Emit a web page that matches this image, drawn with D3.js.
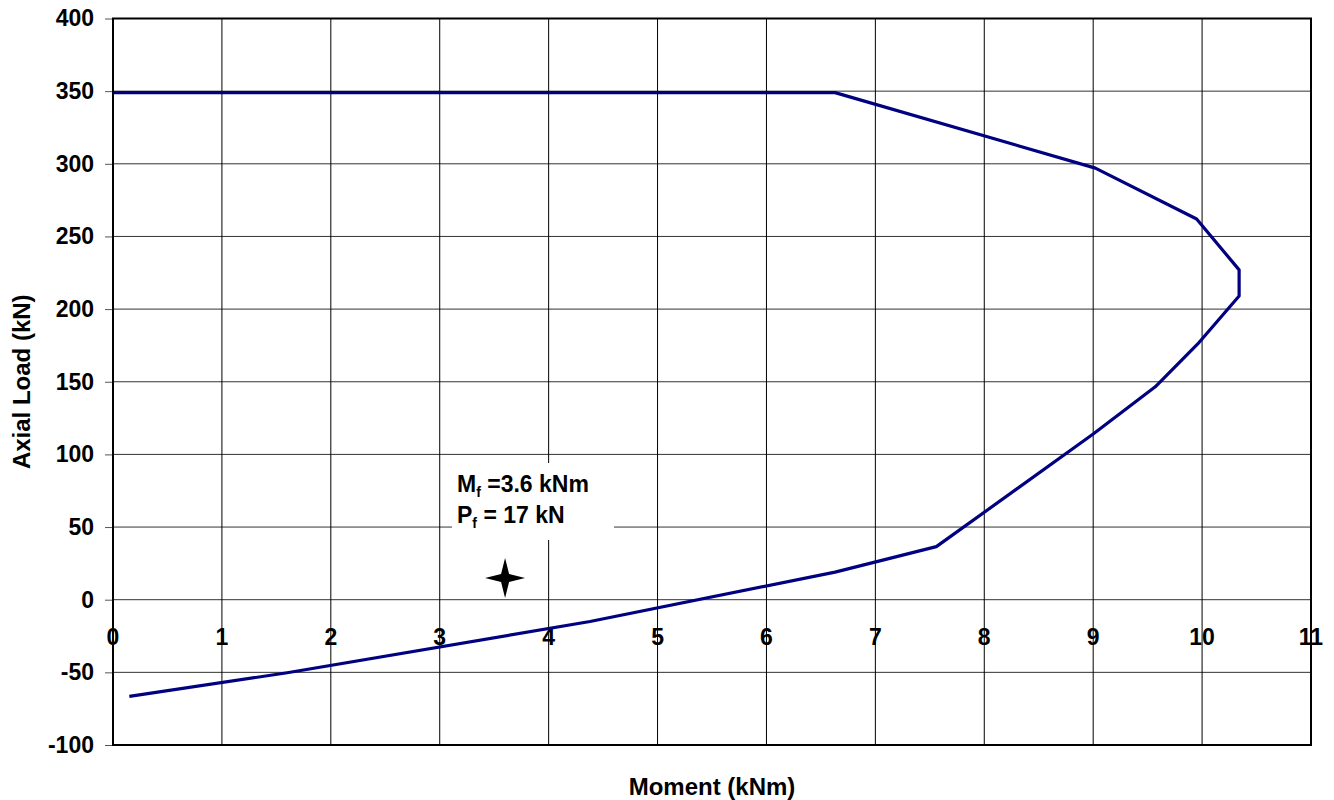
<!DOCTYPE html>
<html>
<head>
<meta charset="utf-8">
<script src="https://cdn.jsdelivr.net/npm/d3@7"></script>
<style>
  body { margin: 0; background: #fff; }
  text { font-family: "Liberation Sans", Arial, sans-serif; font-weight: bold; fill: #000; }
</style>
</head>
<body>
<div class="chart"></div>
<script>
// interaction curve, moment (kNm) vs axial load (kN)
var moment = [0.15, 1.6, 4.38, 6.63, 7.56, 9.0, 9.57, 9.96, 10.34, 10.34, 9.95, 9.02, 6.63, 0];
var axial  = [-66.5, -50.3, -15, 19, 36.5, 114, 146.5, 176, 209, 227, 262, 297, 349, 349];

// factored load point
var mf = 3.6, pf = 17;

var xTicks = [0, 1, 2, 3, 4, 5, 6, 7, 8, 9, 10, 11];
var yTicks = [-100, -50, 0, 50, 100, 150, 200, 250, 300, 350, 400];

var width = 1334, height = 800;
var margin = {top: 18.5, right: 23, bottom: 55, left: 113};

var x = d3.scaleLinear().domain([0, 11]).range([margin.left, width - margin.right]);
var y = d3.scaleLinear().domain([-100, 400]).range([height - margin.bottom, margin.top]);

var svg = d3.select(".chart").append("svg")
  .attr("width", width)
  .attr("height", height);

// grid
svg.append("g").selectAll("line")
  .data(yTicks)
  .enter().append("line")
    .attr("x1", x(0)).attr("x2", x(11))
    .attr("y1", d => y(d)).attr("y2", d => y(d))
    .attr("stroke", "#333").attr("stroke-width", 1);

svg.append("g").selectAll("line")
  .data(xTicks)
  .enter().append("line")
    .attr("x1", d => x(d)).attr("x2", d => x(d))
    .attr("y1", y(-100)).attr("y2", y(400))
    .attr("stroke", "#000").attr("stroke-width", 1);

// y axis (ticks pointing out, labels right aligned)
var yAxis = d3.axisLeft(y).tickValues(yTicks).tickSize(8).tickPadding(11)
  .tickFormat(d => String(d));
var gY = svg.append("g")
  .attr("transform", `translate(${x(0)},0)`)
  .call(yAxis);
gY.select(".domain").remove();
gY.selectAll(".tick line").attr("stroke", "#555");
gY.selectAll(".tick text")
  .attr("font-size", 23)
  .attr("font-family", "Liberation Sans, Arial, sans-serif")
  .attr("font-weight", "bold")
  .attr("fill", "#000");

// x tick labels sit just under the zero line
svg.append("g").selectAll("text")
  .data(xTicks)
  .enter().append("text")
    .attr("x", d => x(d))
    .attr("y", y(0) + 45)
    .attr("text-anchor", "middle")
    .attr("font-size", 23)
    .text(d => d);

// annotation box hides the grid behind it
svg.append("rect")
  .attr("x", 452).attr("y", 463)
  .attr("width", 162).attr("height", 77)
  .attr("fill", "#fff");

var note = svg.append("g").attr("font-size", 23);
var t1 = note.append("text").attr("x", 457).attr("y", 492);
t1.append("tspan").text("M");
t1.append("tspan").attr("font-size", 14).attr("dy", 5).text("f");
t1.append("tspan").attr("dy", -5).text(" =3.6 kNm");
var t2 = note.append("text").attr("x", 457).attr("y", 523);
t2.append("tspan").text("P");
t2.append("tspan").attr("font-size", 14).attr("dy", 5).text("f");
t2.append("tspan").attr("dy", -5).text(" = 17 kN");

// curve
var pts = moment.map((m, i) => ({m: m, p: axial[i]}));
var line = d3.line()
  .x(d => x(d.m))
  .y(d => y(d.p));

svg.append("path")
  .datum(pts)
  .attr("d", line)
  .attr("fill", "none")
  .attr("stroke", "#000080")
  .attr("stroke-width", 3.2)
  .attr("stroke-linejoin", "round");

// star marker for the design point
var s = 20, w = 4;
var star = `M0,${-s} L${w},${-w} L${s},0 L${w},${w} L0,${s} L${-w},${w} L${-s},0 L${-w},${-w} Z`;
svg.append("path")
  .attr("d", star)
  .attr("transform", `translate(${x(mf)},${y(pf) + 3})`)
  .attr("fill", "#000");

// plot border
svg.append("rect")
  .attr("x", x(0)).attr("y", y(400))
  .attr("width", x(11) - x(0))
  .attr("height", y(-100) - y(400))
  .attr("fill", "none")
  .attr("stroke", "#000")
  .attr("stroke-width", 2);

// axis titles
svg.append("text")
  .attr("x", (x(0) + x(11)) / 2)
  .attr("y", 795)
  .attr("text-anchor", "middle")
  .attr("font-size", 24)
  .text("Moment (kNm)");

svg.append("text")
  .attr("transform", `translate(30,${(y(400) + y(-100)) / 2}) rotate(-90)`)
  .attr("text-anchor", "middle")
  .attr("font-size", 24)
  .text("Axial Load (kN)");
</script>
</body>
</html>
